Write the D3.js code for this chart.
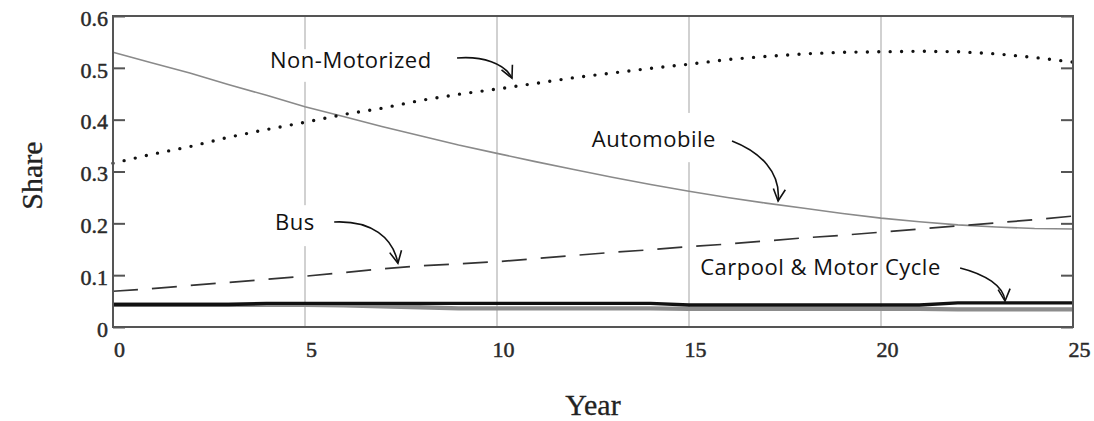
<!DOCTYPE html>
<html>
<head>
<meta charset="utf-8">
<script src="https://cdn.jsdelivr.net/npm/d3@7"></script>
<style>
  body { margin: 0; background: #fff; }
  svg { display: block; }
</style>
</head>
<body>
<svg width="1094" height="421"></svg>
<script>
'use strict';

// data, one value per year 0..25
const years = d3.range(0, 26);
const automobile = [0.530, 0.510, 0.490, 0.468, 0.447, 0.425, 0.406, 0.387, 0.369, 0.351,
                    0.335, 0.319, 0.304, 0.289, 0.275, 0.262, 0.250, 0.239, 0.229, 0.219,
                    0.210, 0.203, 0.197, 0.193, 0.190, 0.189];
const nonMotorized = [0.316, 0.333, 0.348, 0.366, 0.381, 0.395, 0.410, 0.422, 0.437, 0.449,
                      0.459, 0.470, 0.481, 0.490, 0.499, 0.507, 0.516, 0.522, 0.527, 0.530,
                      0.531, 0.532, 0.531, 0.527, 0.520, 0.511];
const bus = [0.069, 0.074, 0.080, 0.086, 0.092, 0.098, 0.105, 0.112, 0.118, 0.122,
             0.126, 0.132, 0.138, 0.144, 0.149, 0.155, 0.160, 0.166, 0.172, 0.177,
             0.183, 0.189, 0.195, 0.201, 0.207, 0.214];
const carpool = [0.0435, 0.0435, 0.0435, 0.0435, 0.0455, 0.0455, 0.0455, 0.0455, 0.0455, 0.0455,
                 0.0455, 0.0455, 0.0455, 0.0455, 0.0455, 0.0425, 0.0425, 0.0425, 0.0425, 0.0425,
                 0.0425, 0.0425, 0.0465, 0.0465, 0.0465, 0.0465];
const motorCycle = [0.043, 0.043, 0.043, 0.043, 0.043, 0.043, 0.042, 0.040, 0.038, 0.036,
                    0.036, 0.036, 0.036, 0.036, 0.036, 0.035, 0.035, 0.035, 0.035, 0.035,
                    0.035, 0.035, 0.034, 0.034, 0.034, 0.034];

const xTicks = [0, 5, 10, 15, 20, 25];
const yTicks = [0, 0.1, 0.2, 0.3, 0.4, 0.5, 0.6];

// annotation labels, in data units (year, share)
const labels = [
  {text: "Non-Motorized", x: 4.09, y: 0.4997, box: [3.88, 8.57, 0.536, 0.473],
   arrow: [[8.96, 0.519], [9.61, 0.523], [10.21, 0.509], [10.39, 0.480]]},
  {text: "Automobile", x: 12.47, y: 0.347, box: [12.21, 15.99, 0.413, 0.318],
   arrow: [[16.12, 0.359], [16.85, 0.338], [17.40, 0.299], [17.32, 0.243]]},
  {text: "Bus", x: 4.22, y: 0.187, box: [3.96, 5.52, 0.235, 0.156],
   arrow: [[5.76, 0.2026], [6.74, 0.206], [7.29, 0.172], [7.42, 0.123]]},
  {text: "Carpool & Motor Cycle", x: 15.29, y: 0.100, box: null,
   arrow: [[22.06, 0.114], [22.71, 0.102], [23.20, 0.079], [23.23, 0.050]]}
];

let svg = d3.select("svg"),
    marge = {top: 16, right: 21, bottom: 94, left: 113},
    width = +svg.attr("width") - marge.left - marge.right,
    height = +svg.attr("height") - marge.top - marge.bottom;

let x = d3.scaleLinear().domain([0, 25]).range([marge.left, marge.left + width]);
let y = d3.scaleLinear().domain([0, 0.6]).range([marge.top + height, marge.top]);

// grid lines
svg.append("g")
    .selectAll("line")
    .data(xTicks.slice(1, -1))
    .enter()
    .append("line")
    .attr("x1", d => x(d)).attr("x2", d => x(d))
    .attr("y1", y(0.6)).attr("y2", y(0))
    .attr("stroke", "#c6c6c6")
    .attr("stroke-width", 1.6);

// white boxes behind the labels
svg.append("g")
    .selectAll("rect")
    .data(labels.filter(d => d.box))
    .enter()
    .append("rect")
    .attr("x", d => x(d.box[0]))
    .attr("y", d => y(d.box[2]))
    .attr("width", d => x(d.box[1]) - x(d.box[0]))
    .attr("height", d => y(d.box[3]) - y(d.box[2]))
    .attr("fill", "#fff");

function line(values) {
    return d3.line()
        .x((d, i) => x(years[i]))
        .y(d => y(d))(values);
}

svg.append("path").attr("d", line(motorCycle))
    .attr("fill", "none").attr("stroke", "#8c8c8c").attr("stroke-width", 4.4);
svg.append("path").attr("d", line(carpool))
    .attr("fill", "none").attr("stroke", "#111").attr("stroke-width", 3.4);
svg.append("path").attr("d", line(automobile))
    .attr("fill", "none").attr("stroke", "#8a8a8a").attr("stroke-width", 1.6);
svg.append("path").attr("d", line(bus))
    .attr("fill", "none").attr("stroke", "#333").attr("stroke-width", 1.7)
    .attr("stroke-dasharray", "25,14");
svg.append("path").attr("d", line(nonMotorized))
    .attr("fill", "none").attr("stroke", "#111").attr("stroke-width", 3.4)
    .attr("stroke-linecap", "round")
    .attr("stroke-dasharray", "0,11.4");

// label text
svg.append("g")
    .selectAll("text")
    .data(labels)
    .enter()
    .append("text")
    .attr("x", d => x(d.x))
    .attr("y", d => y(d.y))
    .attr("font-family", "'Open Sans', sans-serif")
    .attr("font-size", 22)
    .attr("letter-spacing", 0.5)
    .attr("fill", "#111")
    .text(d => d.text);

// curved arrows
svg.append("defs").append("marker")
    .attr("id", "head")
    .attr("markerUnits", "userSpaceOnUse")
    .attr("viewBox", "-13 -8 15 16")
    .attr("markerWidth", 15).attr("markerHeight", 16)
    .attr("orient", "auto")
    .append("path")
    .attr("d", "M-12,-6L0,0L-12,6")
    .attr("fill", "none")
    .attr("stroke", "#111")
    .attr("stroke-width", 1.6);

svg.append("g")
    .selectAll("path")
    .data(labels)
    .enter()
    .append("path")
    .attr("d", d => {
        let p = d.arrow.map(a => [x(a[0]), y(a[1])]);
        return "M" + p[0] + "C" + p[1] + " " + p[2] + " " + p[3];
    })
    .attr("fill", "none")
    .attr("stroke", "#111")
    .attr("stroke-width", 1.6)
    .attr("marker-end", "url(#head)");

// axes
let fmt = d => d === 0 ? "0" : d3.format(".1f")(d);

let yAxis = svg.append("g")
    .attr("transform", "translate(" + marge.left + ",0)")
    .call(d3.axisLeft(y).tickValues(yTicks).tickSizeInner(-12).tickSizeOuter(0).tickPadding(5).tickFormat(fmt));
yAxis.select(".domain").remove();
yAxis.selectAll("line").attr("stroke", "#555").attr("stroke-width", 2);
yAxis.selectAll("text")
    .attr("font-family", "'Liberation Serif', 'Times New Roman', serif")
    .attr("font-size", 22)
    .attr("fill", "#2a2a2a")
    .attr("stroke", "#2a2a2a")
    .attr("stroke-width", 0.5)
    .attr("dy", "0.42em");

let yAxisR = svg.append("g")
    .attr("transform", "translate(" + (marge.left + width) + ",0)")
    .call(d3.axisRight(y).tickValues(yTicks).tickSizeInner(-12).tickSizeOuter(0).tickFormat(""));
yAxisR.select(".domain").remove();
yAxisR.selectAll("line").attr("stroke", "#555").attr("stroke-width", 2);

let xAxis = svg.append("g")
    .attr("transform", "translate(6," + (marge.top + height) + ")")
    .call(d3.axisBottom(x).tickValues(xTicks).tickSize(0).tickPadding(14));
xAxis.select(".domain").remove();
xAxis.selectAll("text")
    .attr("font-family", "'Liberation Serif', 'Times New Roman', serif")
    .attr("font-size", 22)
    .attr("fill", "#2a2a2a")
    .attr("stroke", "#2a2a2a")
    .attr("stroke-width", 0.5);

// frame
svg.append("rect")
    .attr("x", marge.left).attr("y", marge.top)
    .attr("width", width).attr("height", height)
    .attr("fill", "none")
    .attr("stroke", "#555")
    .attr("stroke-width", 2);

// axis titles
svg.append("text")
    .attr("transform", "translate(42," + (marge.top + height / 2 + 4) + ") rotate(-90)")
    .attr("text-anchor", "middle")
    .attr("font-family", "'Liberation Serif', 'Times New Roman', serif")
    .attr("font-size", 30)
    .attr("fill", "#222")
    .attr("stroke", "#222")
    .attr("stroke-width", 0.3)
    .text("Share");

svg.append("text")
    .attr("x", marge.left + width / 2)
    .attr("y", 415)
    .attr("text-anchor", "middle")
    .attr("font-family", "'Liberation Serif', 'Times New Roman', serif")
    .attr("font-size", 30)
    .attr("fill", "#222")
    .attr("stroke", "#222")
    .attr("stroke-width", 0.3)
    .text("Year");
</script>
</body>
</html>
